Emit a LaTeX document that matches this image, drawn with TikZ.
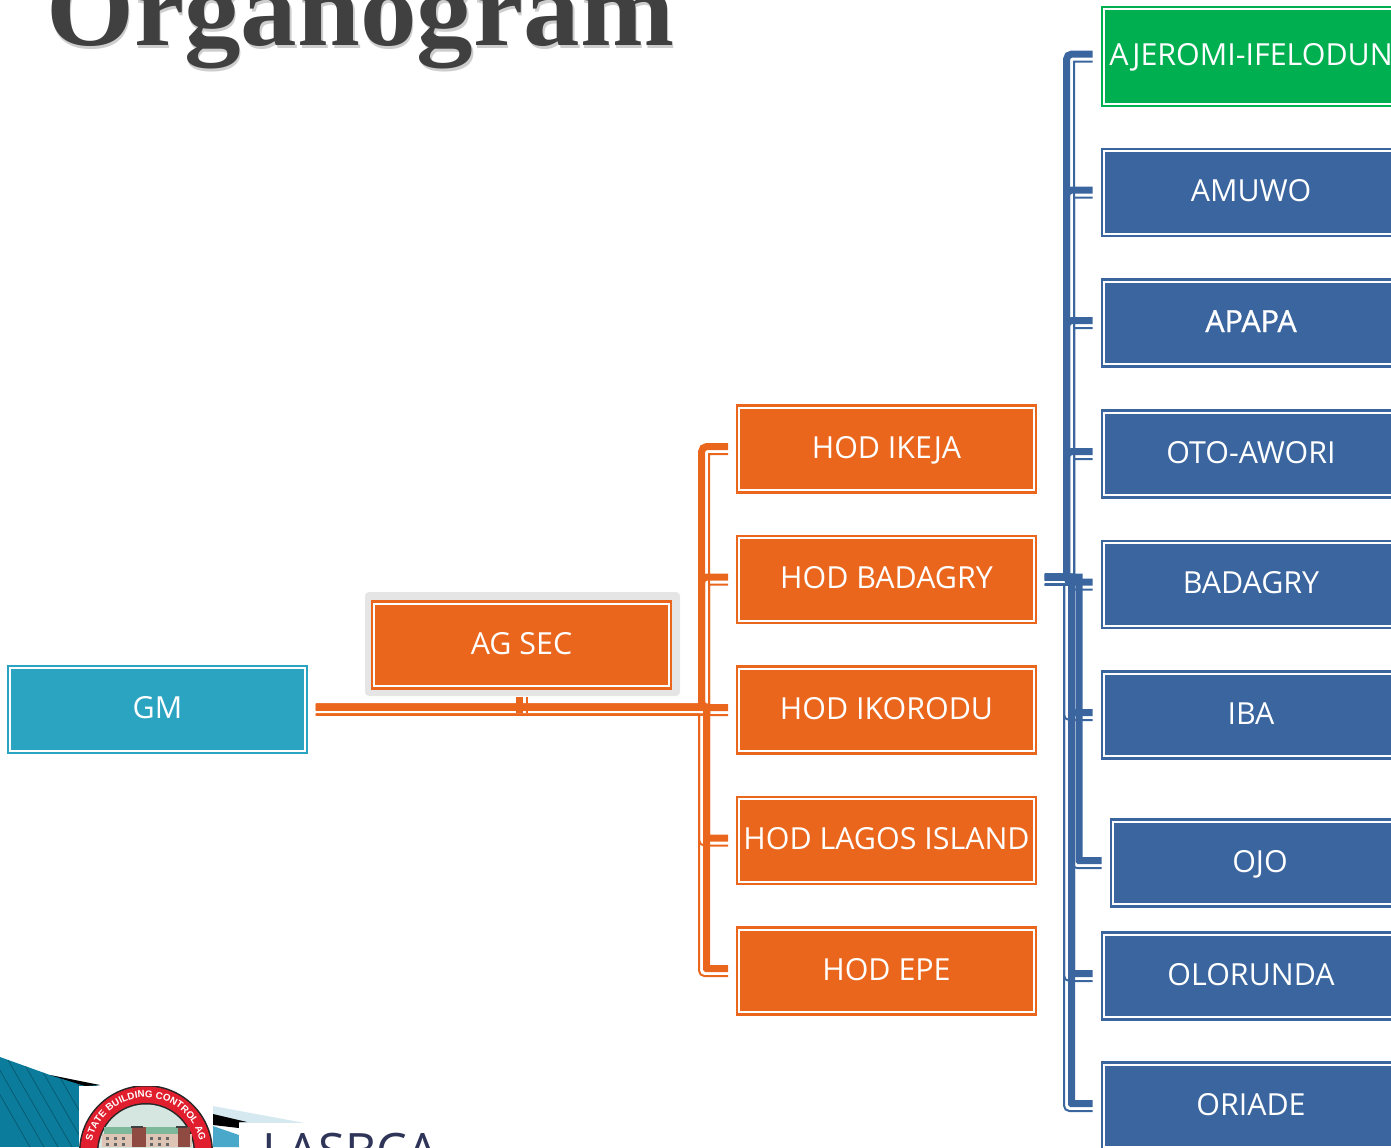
\documentclass[tikz,border=0pt]{standalone}
\usepackage{fontspec}
\setmainfont{Open Sans}
\newfontfamily\titlefont[FakeStretch=1.06]{Liberation Serif}
\newfontfamily\logofont{Liberation Sans}
\usetikzlibrary{calc,decorations.text}
\definecolor{cOrange}{HTML}{EB661D}
\definecolor{cBlue}{HTML}{3A659E}
\definecolor{cCyan}{HTML}{2BA4C2}
\definecolor{cGreen}{HTML}{00B050}
\definecolor{cTitle}{HTML}{404040}
\definecolor{cTeal}{HTML}{0B7C9B}
\definecolor{cTealB}{HTML}{4AA9CA}
\definecolor{cPale}{HTML}{D6E9F1}
\definecolor{cNavy}{HTML}{2F3558}
\definecolor{cRing}{HTML}{E01E2D}
\definecolor{cSky}{HTML}{D5E5E0}
\definecolor{cRoof}{HTML}{7DB89A}
\definecolor{cWall}{HTML}{DDC4B4}
\definecolor{cColumn}{HTML}{8F4A42}
\tikzset{
  orgbox/.style={rectangle,draw=#1,fill=#1,double=white,line width=1.7pt,double distance=1.5pt,
    minimum width=220.75pt,minimum height=61.9pt,inner sep=0pt,outer sep=2.45pt,text=white,
    text height=20pt,text depth=6.5pt,
    font=\fontsize{22.8pt}{28pt}\selectfont},
  cthick/.style={line width=5.25pt,line cap=butt},
  cthin/.style={line width=1.5pt,line cap=butt},
  titletext/.style={anchor=base west,inner sep=0pt,font=\titlefont\bfseries\fontsize{80pt}{80pt}\selectfont},
}
% colour, source coordinate, trunk coordinate, target coordinate, thick dx, thin dx, rounded-thick, rounded-thin
\newcommand{\elbow}[8]{%
  \draw[#1,cthick] ($(#2)+(0,-2.5)$) [sharp corners] -- ($(#3|-#2)+(#5,-2.5)$) [rounded corners=#7] -- ($(#3|-#4)+(#5,-2.5)$) -- ($(#4)+(0,-2.5)$);
  \draw[#1,cthin] ($(#2)+(0,5)$) [sharp corners] -- ($(#3|-#2)+(#6,5)$) [rounded corners=#8] -- ($(#3|-#4)+(#6,5)$) -- ($(#4)+(0,5)$);
}
\newcommand{\elbowup}[4]{\elbow{#1}{#2}{#3}{#4}{-2.5}{5}{4pt}{0.01pt}}
\newcommand{\elbowdown}[4]{\elbow{#1}{#2}{#3}{#4}{2.5}{-5}{0.01pt}{4pt}}
\begin{document}
\begin{tikzpicture}[x=0.75pt,y=-0.75pt]
\useasboundingbox (0,0) rectangle (1391,1147);
\clip (0,0) rectangle (1391,1147);
% title
\node[titletext,text=black!35,opacity=.55] (titleshade) at (47.5,48.5) {Organogram};
\node[titletext,text=cTitle] (title) at (46,45) {Organogram};
% bottom-left decoration
\begin{scope}
\clip (0,1057) -- (50,1075) -- (100,1086) -- (100,1147) -- (0,1147) -- cycle;
\fill[cTeal] (0,1050) rectangle (100,1147);
\foreach \k in {0,14,...,140} \draw[black!60!cTeal,line width=.5pt,opacity=.5] (\k-20,1060) -- (\k+30,1147);
\end{scope}
\fill[black] (50,1075) -- (100,1085) -- (85,1086) -- cycle;
\fill[cPale] (213,1106) -- (305,1123) -- (213,1123) -- cycle;
\fill[black] (213,1114) -- (247,1122) -- (239,1122) -- (239,1128) -- (213,1125) -- cycle;
\fill[cTealB] (213,1126) -- (239,1135) -- (239,1147) -- (213,1147) -- cycle;
\fill[white] (79,1086) rectangle (213,1147);
\fill[white] (239,1123) rectangle (460,1147);
% logo
\begin{scope}
\clip (79,1086) rectangle (213,1147);
\fill[black!85] (146,1152) circle (67);
\fill[cRing] (146,1152) circle (65.5);
\fill[black!85] (146,1152) circle (49);
\fill[cSky] (146,1152) circle (47.5);
\fill[cRoof] (104,1127) rectangle (190,1134);
\fill[cWall] (102,1134) rectangle (192,1147);
\fill[cColumn] (132,1127) rectangle (146,1147);
\fill[cColumn] (178,1127) rectangle (190,1147);
\fill[black!75] (131,1126) rectangle (143,1128);
\fill[black!75] (176,1126) rectangle (187,1128);
\foreach \xx in {106,114,122,150,158,166} \foreach \yy in {1137,1143} \fill[black!60] (\xx,\yy) rectangle +(3,3);
\path[postaction={decorate},decoration={text along path,text align=center,
  text={|\logofont\bfseries\fontsize{7.3pt}{8pt}\selectfont\color{white}|STATE BUILDING CONTROL AG}}]
  (92,1141) arc[start angle=-168,end angle=-12,radius=55];
\end{scope}
\node[anchor=base west,inner sep=0pt,text=cNavy,font=\fontsize{36.6pt}{40pt}\selectfont] (lasbca) at (262,1168) {LASBCA};
% boxes
\node[orgbox=cCyan] (gm) at (157.5,709.5) {GM};
\fill[black!10,rounded corners=3pt] (365,592) rectangle (680,696);
\node[orgbox=cOrange] (agsec) at (521.5,645) {AG SEC};
\node[orgbox=cOrange] (ikeja) at (886.5,449) {HOD IKEJA};
\node[orgbox=cOrange] (hbad) at (886.5,579.5) {HOD BADAGRY};
\node[orgbox=cOrange] (ikorodu) at (886.5,710) {HOD IKORODU};
\node[orgbox=cOrange] (lagos) at (886.5,840.5) {HOD LAGOS ISLAND};
\node[orgbox=cOrange] (epe) at (886.5,971) {HOD EPE};
\node[orgbox=cGreen,minimum height=70.9pt] (ajeromi) at (1251,56.5) {AJEROMI-IFELODUN};
\node[orgbox=cBlue] (amuwo) at (1251,192.5) {AMUWO};
\node[orgbox=cBlue] (apapa) at (1251,323) {\addfontfeature{FakeBold=1}APAPA};
\node[orgbox=cBlue] (oto) at (1251,454) {OTO-AWORI};
\node[orgbox=cBlue] (bad) at (1251,584.5) {BADAGRY};
\node[orgbox=cBlue] (iba) at (1251,715) {IBA};
\node[orgbox=cBlue] (ojo) at (1260,863) {OJO};
\node[orgbox=cBlue] (olo) at (1251,976) {OLORUNDA};
\node[orgbox=cBlue] (ori) at (1251,1106) {ORIADE};
% connector ends
\coordinate (gmS) at ($(gm.east)+(8,0)$);
\coordinate (oT) at (704,0);
\coordinate (bS) at ($(hbad.east)+(8,0)$);
\coordinate (bT) at (1069,0);
\coordinate (bT2) at (1076.5,0);
\foreach \n in {ikeja,hbad,ikorodu,lagos,epe,ajeromi,amuwo,apapa,oto,bad,iba,ojo,olo,ori}
  \coordinate (\n T) at ($(\n.west)+(-8,0)$);
\elbowup{cOrange}{gmS}{oT}{ikejaT}
\elbowup{cOrange}{gmS}{oT}{hbadT}
\elbowup{cOrange}{gmS}{oT}{ikoroduT}
\elbowdown{cOrange}{gmS}{oT}{lagosT}
\elbowdown{cOrange}{gmS}{oT}{epeT}
\draw[cOrange,cthick] ($(agsec.south)+(-2,7)$) -- ($(gmS-|agsec.south)+(-2,3)$);
\draw[cOrange,cthin] ($(agsec.south)+(5,7)$) -- ($(gmS-|agsec.south)+(5,3)$);
\elbowdown{cBlue}{bS}{bT2}{ojoT}
\elbowup{cBlue}{bS}{bT}{ajeromiT}
\elbowup{cBlue}{bS}{bT}{amuwoT}
\elbowup{cBlue}{bS}{bT}{apapaT}
\elbowup{cBlue}{bS}{bT}{otoT}
\elbowup{cBlue}{bS}{bT}{badT}
\elbowdown{cBlue}{bS}{bT}{ibaT}
\elbowdown{cBlue}{bS}{bT}{oloT}
\elbowdown{cBlue}{bS}{bT}{oriT}
\end{tikzpicture}
\end{document}
